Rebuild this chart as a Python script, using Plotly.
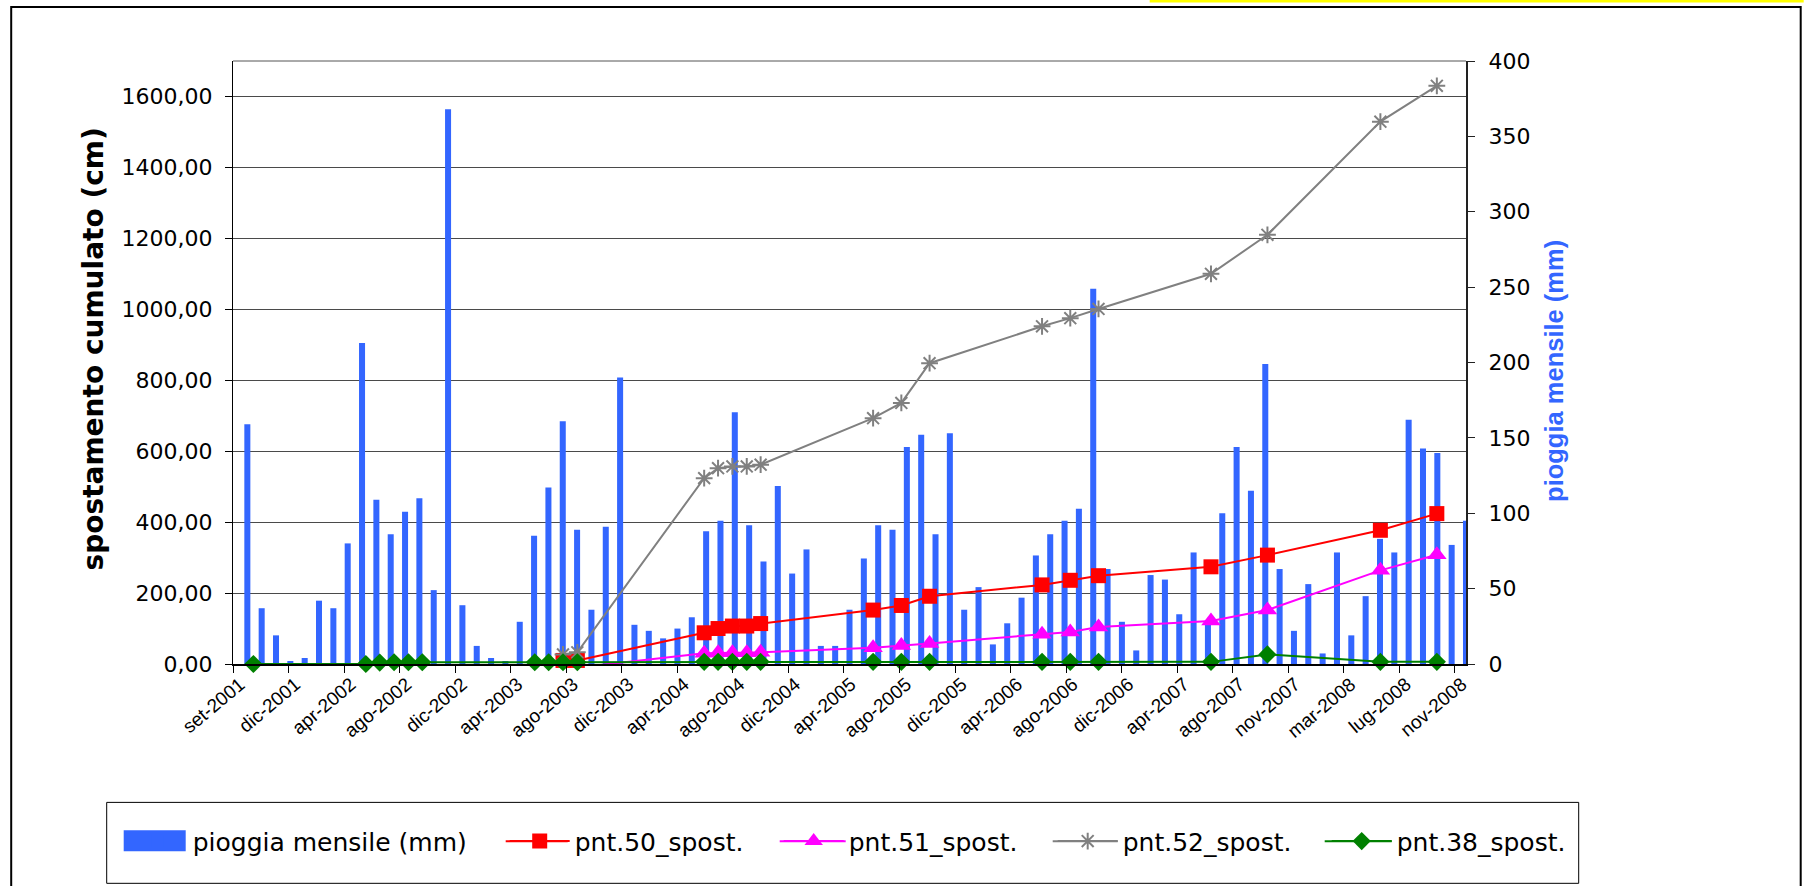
import pandas as pd
import plotly.graph_objects as go

# ---- data -------------------------------------------------------------
# monthly rainfall (mm), Sep 2001 .. Nov 2008
rain_months = [d.strftime("%Y-%m") for d in pd.date_range("2001-09-01", "2008-11-01", freq="MS")]
rain_mm = [None, 159, 37, 19, 2, 4, 42, 37, 80, 213, 109, 86, 101, 110, 49, 368,
           39, 12, 4, 2, 28, 85, 117, 161, 89, 36, 91, 190, 26, 22, 17, 23.5,
           31, 88, 95, 167, 92, 68, 118, 60, 76, 12, 12, 36, 70, 92, 89, 144,
           152, 86, 153, 36, 51, 13, 27, 44, 72, 86, 95, 103, 249, 63, 28, 9,
           59, 56, 33, 74, 28, 100, 144, 115, 199, 63, 22, 53, 7, 74, 19, 45,
           83, 74, 162, 143, 140, 79, 95]

# survey dates and cumulative displacement (cm)
dates_38 = ["2001-10-15", "2002-06-15", "2002-07-15", "2002-08-15", "2002-09-15",
            "2002-10-15", "2003-06-15", "2003-07-15", "2003-08-15", "2003-09-15",
            "2004-06-15", "2004-07-15", "2004-08-15", "2004-09-15", "2004-10-15",
            "2005-06-15", "2005-08-15", "2005-10-15", "2006-06-15", "2006-08-15",
            "2006-10-15", "2007-06-15", "2007-10-15", "2008-06-15", "2008-10-15"]
pnt38 = [0, 0, 4, 5, 5, 5, 5, 5, 5, 5, 6, 6, 6, 6, 6, 6, 6, 6, 6, 6, 6, 6, 27, 6, 6]

dates_50 = ["2003-08-15", "2003-09-15", "2004-06-15", "2004-07-15", "2004-08-15",
            "2004-09-15", "2004-10-15", "2005-06-15", "2005-08-15", "2005-10-15",
            "2006-06-15", "2006-08-15", "2006-10-15", "2007-06-15", "2007-10-15",
            "2008-06-15", "2008-10-15"]
pnt50 = [10, 10, 88, 100, 107, 107, 114, 152, 165, 191, 223, 236, 249, 274, 307, 377, 424]
pnt51 = [-10, -10, 30, 32, 32, 32, 33, 46, 52, 58, 84, 90, 104, 121, 152, 264, 308]
pnt52 = [27, 33, 524, 552, 557, 557, 562, 693, 736, 848, 952, 975, 1001, 1100, 1210, 1529, 1630]

tick_labels = ["set-2001", "dic-2001", "apr-2002", "ago-2002", "dic-2002", "apr-2003",
               "ago-2003", "dic-2003", "apr-2004", "ago-2004", "dic-2004", "apr-2005",
               "ago-2005", "dic-2005", "apr-2006", "ago-2006", "dic-2006", "apr-2007",
               "ago-2007", "nov-2007", "mar-2008", "lug-2008", "nov-2008"]
tick_dates = pd.date_range("2001-09-01", periods=len(tick_labels), freq="120D")

# ---- page geometry ----------------------------------------------------
W, H = 1804, 886
L, R, T, B = 233.3, 1466.3, 61.0, 664.5   # plot box in pixels


def px_x(x):
    return (x - L) / (R - L)


def px_y(y):
    return (B - y) / (B - T)


FONT = "DejaVu Sans"
ARIAL = "Liberation Sans"
BLUE = "#3366FF"
LEG_Y = 842

fig = go.Figure()

# rainfall bars: hidden category axis (x) + right-hand axis (y)
fig.add_trace(go.Bar(
    x=rain_months, y=rain_mm, name="pioggia mensile (mm)",
    marker=dict(color=BLUE, line=dict(width=0)), width=0.42,
    xaxis="x", yaxis="y", legend="legend",
))

# displacement lines: date axis (x2) + left-hand axis (y2)
line_specs = [
    ("pnt.50_spost.", dates_50, pnt50, "#FF0000", dict(symbol="square", size=15, color="#FF0000")),
    ("pnt.51_spost.", dates_50, pnt51, "#FF00FF", dict(symbol="triangle-up", size=17, color="#FF00FF")),
    ("pnt.52_spost.", dates_50, pnt52, "#808080", dict(symbol="asterisk-open", size=14,
                                                       line=dict(color="#262626", width=2))),
    ("pnt.38_spost.", dates_38, pnt38, "#008000", dict(symbol="diamond", size=14, color="#008000")),
]
for name, xs, ys, col, mk in line_specs:
    fig.add_trace(go.Scatter(
        x=xs, y=ys, name=name, mode="lines+markers",
        line=dict(color=col, width=2), marker=mk,
        xaxis="x2", yaxis="y2", legend="legend2", cliponaxis=False,
    ))

tickfont = dict(family=FONT, size=22, color="black")
legfont = dict(family=FONT, size=25, color="black")

# legend swatches drawn at Excel-like proportions
legend_swatches = [
    dict(type="rect", xref="paper", yref="paper",
         x0=px_x(124), x1=px_x(186), y0=px_y(852), y1=px_y(831),
         line=dict(width=0), fillcolor=BLUE),
]
for (x0, x1), (_, _, _, col, _) in zip([(506, 568), (780, 846), (1053, 1118), (1325, 1392)], line_specs):
    legend_swatches.append(dict(type="line", xref="paper", yref="paper",
                                x0=px_x(x0), x1=px_x(x1), y0=px_y(LEG_Y), y1=px_y(LEG_Y),
                                line=dict(color=col, width=2)))

fig.update_layout(
    width=W, height=H,
    margin=dict(l=L, r=W - R, t=T, b=H - B, pad=0),
    paper_bgcolor="white", plot_bgcolor="white",
    separators=",.",
    showlegend=True,
    xaxis=dict(type="category", range=[0, len(rain_months) - 1], visible=False,
               showgrid=False, fixedrange=True),
    yaxis=dict(side="right", range=[0, 400], dtick=50, showgrid=False,
               showline=True, linecolor="#222222", linewidth=2,
               ticks="outside", ticklen=7, tickcolor="#222222",
               tickfont=tickfont, ticklabelstandoff=9, zeroline=False),
    xaxis2=dict(type="date", overlaying="x", anchor="y2", side="bottom",
                range=["2001-09-01", "2008-12-17"],
                tickmode="array", tickvals=list(tick_dates), ticktext=tick_labels,
                tickangle=-40, tickfont=dict(family=ARIAL, size=19, color="black"),
                ticklabelstandoff=-7, ticklabelshift=7,
                ticks="outside", ticklen=7, tickcolor="black",
                showline=True, linecolor="black", linewidth=2, showgrid=False),
    yaxis2=dict(overlaying="y", side="left", anchor="x2", range=[0, 1700],
                tickmode="array", tickvals=list(range(0, 1601, 200)), tickformat=".2f",
                showgrid=True, gridcolor="#4a4a4a", gridwidth=1,
                showline=True, linecolor="black", linewidth=1,
                ticks="outside", ticklen=7, tickcolor="black",
                tickfont=tickfont, ticklabelstandoff=8, zeroline=False),
    annotations=[
        dict(text="<b>spostamento cumulato (cm)</b>", textangle=-90,
             xref="paper", yref="paper", x=px_x(94), y=px_y(349),
             xanchor="center", yanchor="middle", showarrow=False,
             font=dict(family=FONT, size=28, color="black")),
        dict(text="<b>pioggia mensile (mm)</b>", textangle=-90,
             xref="paper", yref="paper", x=px_x(1555), y=px_y(371.5),
             xanchor="center", yanchor="middle", showarrow=False,
             font=dict(family=ARIAL, size=25.5, color=BLUE)),
    ],
    legend=dict(orientation="h", x=px_x(123), y=px_y(LEG_Y), xanchor="left", yanchor="middle",
                font=legfont, bgcolor="rgba(0,0,0,0)", borderwidth=0, itemwidth=60),
    legend2=dict(orientation="h", x=px_x(505), y=px_y(LEG_Y), xanchor="left", yanchor="middle",
                 font=legfont, bgcolor="rgba(0,0,0,0)", borderwidth=0, itemwidth=60,
                 entrywidth=199, entrywidthmode="pixels"),
    shapes=[
        # top edge of the plot area
        dict(type="line", xref="paper", yref="paper", x0=0, x1=1, y0=1, y1=1,
             line=dict(color="#555555", width=1), layer="below"),
        # legend frame
        dict(type="rect", xref="paper", yref="paper",
             x0=px_x(107), x1=px_x(1579), y0=px_y(884), y1=px_y(803),
             line=dict(color="black", width=1), fillcolor="rgba(0,0,0,0)"),
        # chart frame
        dict(type="rect", xref="paper", yref="paper",
             x0=px_x(11.5), x1=px_x(1801), y0=px_y(900), y1=px_y(7),
             line=dict(color="black", width=2), fillcolor="rgba(0,0,0,0)"),
        # highlight strip along the top edge
        dict(type="rect", xref="paper", yref="paper",
             x0=px_x(1150), x1=px_x(1804), y0=px_y(2.5), y1=px_y(0),
             line=dict(width=0), fillcolor="#FFFF00"),
    ] + legend_swatches,
)

fig.write_html("out.html")
